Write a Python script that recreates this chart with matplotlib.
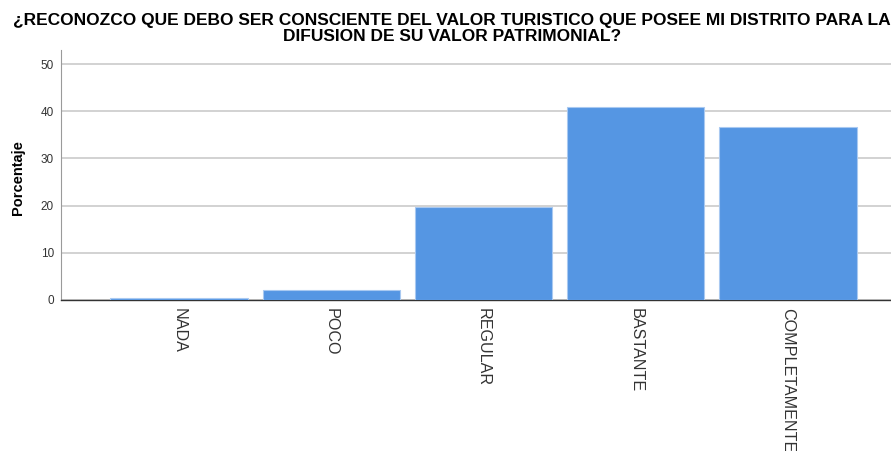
import numpy as np
import matplotlib.pyplot as plt

# Datos del grafico
categorias = ['NADA', 'POCO', 'REGULAR', 'BASTANTE', 'COMPLETAMENTE']
porcentaje = [0.4, 2.2, 19.8, 40.9, 36.7]
ticks_y = [0, 10, 20, 30, 40, 50]

titulo = ('¿RECONOZCO QUE DEBO SER CONSCIENTE DEL VALOR TURISTICO QUE POSEE MI DISTRITO PARA LA\n'
          'DIFUSION DE SU VALOR PATRIMONIAL?')

plt.rcParams['font.family'] = ['Liberation Sans', 'DejaVu Sans']

fig = plt.figure(figsize=(8.91, 4.51), dpi=100)
ax = fig.add_axes([61 / 891, 1 - 300 / 451, 845 / 891, 250 / 451])

x = np.arange(len(categorias))
ax.bar(x, porcentaje, width=0.9, color='#5596e3', edgecolor='#a9c9f1', linewidth=0.8, zorder=3)

ax.set_xlim(-0.775, 4.775)
ax.set_ylim(0, 53)
ax.set_yticks(ticks_y)
ax.set_yticklabels([str(t) for t in ticks_y], fontsize=8.5, color='#333333')
ax.grid(axis='y', color='#cfcfcf', linewidth=1.3, zorder=0)
ax.set_axisbelow(True)

ax.set_xticks(x)
ax.set_xticklabels(categorias, rotation=270, fontsize=11.6, color='#333333', va='top', ha='center')
ax.tick_params(axis='both', length=0)
ax.tick_params(axis='y', pad=5)
ax.tick_params(axis='x', pad=6)

for lado in ['top', 'right']:
    ax.spines[lado].set_visible(False)
ax.spines['left'].set_color('#9a9a9a')
ax.spines['bottom'].set_color('#333333')
ax.spines['bottom'].set_linewidth(1.0)

fig.text(18 / 891, 1 - 178 / 451, 'Porcentaje', rotation=90, ha='center', va='center',
         fontsize=10.5, fontweight='bold')

fig.text(452 / 891, 1 - 28.5 / 451, titulo, ha='center', va='center', fontsize=12.5,
         fontweight='bold', linespacing=1.08)

fig.savefig('out.png', dpi=100)
